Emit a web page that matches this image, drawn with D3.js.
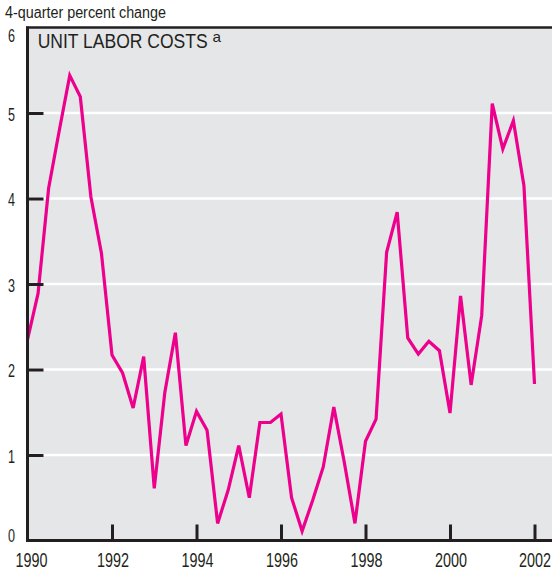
<!DOCTYPE html>
<html>
<head>
<meta charset="utf-8">
<script src="https://cdn.jsdelivr.net/npm/d3@7"></script>
<style>
  body { margin: 0; background: #fff; }
  svg text { font-family: "Liberation Sans", Arial, sans-serif; fill: #231f20; }
</style>
</head>
<body>
<div id="chart"></div>
<script>
// Quarterly values, 1990:Q1 - 2002:Q1
const startYear = 1990;
const laborCosts = [
  2.35, 2.89, 4.12, 4.79, 5.44, 5.19, 4.02, 3.36,
  2.17, 1.96, 1.55, 2.15, 0.61, 1.73, 2.43, 1.11,
  1.51, 1.29, 0.20, 0.59, 1.11, 0.50, 1.38, 1.38,
  1.48, 0.50, 0.11, 0.47, 0.86, 1.56, 0.91, 0.20,
  1.16, 1.42, 3.37, 3.84, 2.37, 2.18, 2.33, 2.22,
  1.49, 2.86, 1.82, 2.63, 5.11, 4.58, 4.91, 4.15,
  1.83
];
const xTicks = [1990, 1992, 1994, 1996, 1998, 2000, 2002];
const yTicks = [0, 1, 2, 3, 4, 5, 6];

const W = 552, H = 574;
const plotLeft = 27.5, plotTop = 27.5, plotBottom = 540.5;

const svg = d3.select("#chart").append("svg")
    .attr("width", W)
    .attr("height", H);

const x = d3.scaleLinear().domain([1990, 2002]).range([plotLeft, 534.5]);
const y = d3.scaleLinear().domain([0, 6]).range([plotBottom, plotTop]);

// plot background
svg.append("rect")
    .attr("x", plotLeft).attr("y", plotTop)
    .attr("width", W - plotLeft).attr("height", plotBottom - plotTop)
    .attr("fill", "#e5e6e8");

// white gridlines
svg.append("g")
    .selectAll("line")
    .data(yTicks.slice(1, -1))
    .join("line")
    .attr("x1", plotLeft).attr("x2", W)
    .attr("y1", d => y(d)).attr("y2", d => y(d))
    .attr("stroke", "#fff")
    .attr("stroke-width", 2.5);

// the series
const line = d3.line()
    .x((d, i) => x(startYear + i / 4))
    .y(d => y(d));

svg.append("path")
    .datum(laborCosts)
    .attr("d", line)
    .attr("fill", "none")
    .attr("stroke", "#ec008c")
    .attr("stroke-width", 3.2)
    .attr("stroke-linejoin", "miter");

// Y axis (labels are condensed to match the narrow type of the original)
const yAxis = svg.append("g")
    .attr("transform", `translate(${plotLeft},0)`)
    .call(d3.axisLeft(y).tickValues(yTicks).tickFormat(d3.format("d")).tickSize(-16).tickSizeOuter(0));
yAxis.select(".domain").remove();
yAxis.selectAll(".tick line").attr("stroke", "#231f20").attr("stroke-width", 3)
    .filter(d => d === 0 || d === 6).remove();
yAxis.selectAll(".tick text")
    .attr("font-size", 19)
    .attr("text-anchor", "middle")
    .attr("x", -16)
    .attr("dy", null)
    .attr("y", d => d === 6 ? 14 : d === 0 ? 1 : 7)
    .attr("textLength", 7)
    .attr("lengthAdjust", "spacingAndGlyphs");

// X axis
const xAxis = svg.append("g")
    .attr("transform", `translate(0,${plotBottom})`)
    .call(d3.axisBottom(x).tickValues(xTicks).tickFormat(d3.format("d")).tickSize(-16).tickSizeOuter(0));
xAxis.select(".domain").remove();
xAxis.selectAll(".tick line").attr("stroke", "#231f20").attr("stroke-width", 3)
    .filter(d => d === 1990).remove();
xAxis.selectAll(".tick text")
    .attr("font-size", 19.5)
    .attr("dy", null)
    .attr("y", 26)
    .attr("x", d => d === 1990 ? 3.5 : d === 2002 ? 0 : 0.6)
    .attr("textLength", 32)
    .attr("lengthAdjust", "spacingAndGlyphs");

// frame lines: left axis, bottom axis, top border
svg.append("line")
    .attr("x1", plotLeft).attr("x2", plotLeft).attr("y1", plotTop - 1).attr("y2", plotBottom + 1.5)
    .attr("stroke", "#231f20").attr("stroke-width", 3);
svg.append("line")
    .attr("x1", plotLeft - 1.5).attr("x2", W).attr("y1", plotBottom).attr("y2", plotBottom)
    .attr("stroke", "#231f20").attr("stroke-width", 3);
svg.append("line")
    .attr("x1", plotLeft - 1.5).attr("x2", W).attr("y1", plotTop).attr("y2", plotTop)
    .attr("stroke", "#231f20").attr("stroke-width", 2.5);

// labels
svg.append("text")
    .attr("x", 5).attr("y", 18.3)
    .attr("font-size", 16)
    .attr("textLength", 161)
    .attr("lengthAdjust", "spacingAndGlyphs")
    .text("4-quarter percent change");

const title = svg.append("text")
    .attr("x", 37.7).attr("y", 48.3)
    .attr("font-size", 20);
title.append("tspan")
    .attr("textLength", 170)
    .attr("lengthAdjust", "spacingAndGlyphs")
    .text("UNIT LABOR COSTS");
title.append("tspan")
    .attr("x", 212.5)
    .attr("y", 41.7)
    .attr("font-size", 15)
    .attr("textLength", 8.5)
    .attr("lengthAdjust", "spacingAndGlyphs")
    .text("a");
</script>
</body>
</html>
